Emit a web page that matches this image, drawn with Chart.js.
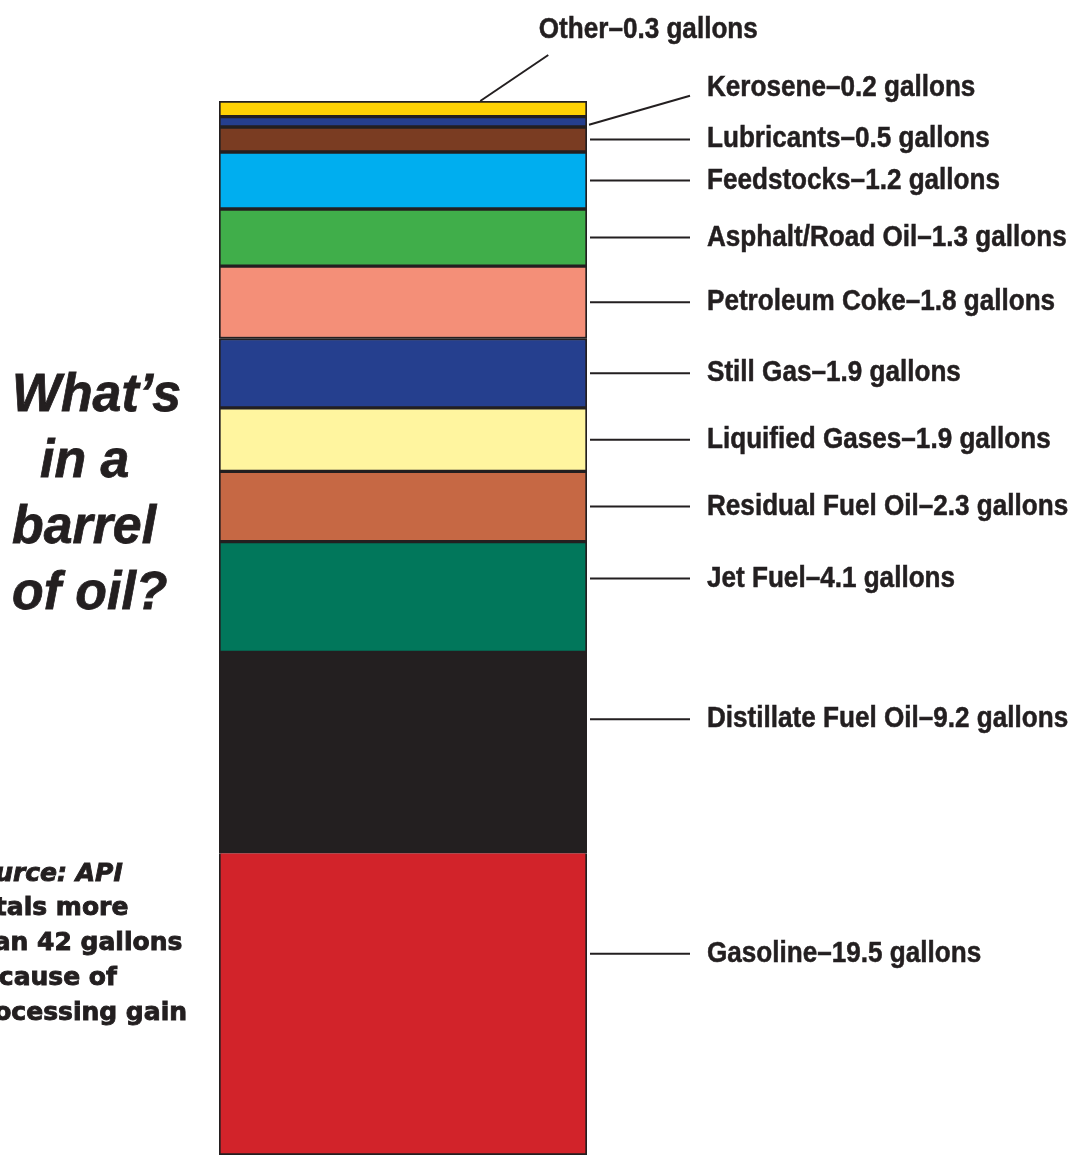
<!DOCTYPE html>
<html lang="en">
  <head>
    <meta charset="UTF-8" />
    <title>What's in a barrel of oil?</title>
    <style>
      body { margin: 0; background: #fff; }
      #wrap { width: 1071px; height: 1155px; overflow: hidden; }
    </style>
  </head>
  <body>
    <div id="wrap">
      <canvas id="barrel" width="1071" height="1155"></canvas>
    </div>

    <script src="https://cdn.jsdelivr.net/npm/chart.js@4/dist/chart.umd.min.js"></script>
    <script>
      // products, top of the barrel first
      var products = ['Other', 'Kerosene', 'Lubricants', 'Feedstocks', 'Asphalt/Road Oil', 'Petroleum Coke',
                      'Still Gas', 'Liquified Gases', 'Residual Fuel Oil', 'Jet Fuel', 'Distillate Fuel Oil', 'Gasoline'];
      var gallons = [0.3, 0.2, 0.5, 1.2, 1.3, 1.8, 1.9, 1.9, 2.3, 4.1, 9.2, 19.5];
      var colors = ['#ffd204', '#253f8e', '#7a3c22', '#00aeef', '#40ae4a', '#f48f78',
                    '#253f8e', '#fff59f', '#c66844', '#01775b', '#231f20', '#d2232a'];

      var ink = '#231f20';
      // the drawing squeezes the big layers, so the value axis is a log axis shifted by this much
      var axisOffset = 14;

      // floating [start, end] for every layer, stacked from the top of the barrel
      var total = 0;
      var datasets = products.map(function (name, i) {
        var start = axisOffset + total;
        total += gallons[i];
        return {
          label: name,
          data: [[start, axisOffset + total]],
          backgroundColor: colors[i],
          borderColor: ink,
          borderWidth: 2,
          borderSkipped: i === products.length - 1 ? 'bottom' : false
        };
      });

      function labelText(i) {
        return products[i] + '\u2013' + gallons[i].toFixed(1) + ' gallons';
      }

      // text drawn a bit narrower (condensed look), optionally thickened with a stroke
      function squeezedText(ctx, text, x, y, sx, thick) {
        ctx.save();
        ctx.translate(x, y);
        ctx.scale(sx, 1);
        ctx.fillText(text, 0, 0);
        if (thick) {
          ctx.lineWidth = thick;
          ctx.strokeText(text, 0, 0);
        }
        ctx.restore();
      }

      // leader lines, product labels and the side texts
      var annotations = {
        id: 'annotations',
        afterDraw: function (chart) {
          var ctx = chart.ctx;
          ctx.save();
          ctx.strokeStyle = ink;
          ctx.fillStyle = ink;
          ctx.lineWidth = 2;
          ctx.font = 'bold 29px "Liberation Sans", Arial, sans-serif';
          ctx.textBaseline = 'alphabetic';

          var lineEnd = 690, textX = 707, sx = 0.9, thick = 0.5;
          chart.data.datasets.forEach(function (ds, i) {
            var bar = chart.getDatasetMeta(i).data[0];
            var top = Math.min(bar.y, bar.base);
            var bottom = Math.min(Math.max(bar.y, bar.base), chart.chartArea.bottom);
            var h = bottom - top;
            var right = bar.x + bar.width / 2;
            var ly = h < 100 ? top + h / 2 : top + h / 3;

            ctx.lineWidth = 2;
            ctx.beginPath();
            if (i === 0) {
              var lx = bar.x + bar.width * 0.21;
              ctx.moveTo(lx, top);
              ctx.lineTo(lx + 68, top - 46);
              ctx.stroke();
              ctx.textAlign = 'center';
              squeezedText(ctx, labelText(i), lx + 168, top - 63, sx, thick);
              ctx.textAlign = 'left';
              return;
            }
            if (i === 1) {
              var ey = ly - 26;
              ctx.moveTo(right + 2, ly + 3);
              ctx.lineTo(lineEnd, ey);
              ctx.stroke();
              squeezedText(ctx, labelText(i), textX, ey, sx, thick);
              return;
            }
            ctx.moveTo(right + 3, ly);
            ctx.lineTo(lineEnd, ly);
            ctx.stroke();
            squeezedText(ctx, labelText(i), textX, ly + 8, sx, thick);
          });

          // title on the left
          ctx.font = 'italic bold 54px "Liberation Sans", Arial, sans-serif';
          squeezedText(ctx, 'What\u2019s', 12, 411, 0.96, 0.8);
          squeezedText(ctx, 'in a', 40, 477, 0.96, 0.8);
          squeezedText(ctx, 'barrel', 12, 543, 0.96, 0.8);
          squeezedText(ctx, 'of oil?', 12, 609, 0.96, 0.8);

          // source note, running off the left edge
          ctx.font = 'bold 25px "DejaVu Sans", sans-serif';
          var noteX = 187 - ctx.measureText('processing gain').width;
          ctx.font = 'italic bold 25px "DejaVu Sans", sans-serif';
          squeezedText(ctx, 'Source: API', noteX - 4, 881, 1, 0.9);
          ctx.font = 'bold 25px "DejaVu Sans", sans-serif';
          squeezedText(ctx, 'Totals more', noteX, 915, 1, 0.9);
          squeezedText(ctx, 'than 42 gallons', noteX, 950, 1, 0.9);
          squeezedText(ctx, 'because of', noteX, 985, 1, 0.9);
          squeezedText(ctx, 'processing gain', noteX, 1020, 1, 0.9);
          ctx.restore();
        }
      };

      new Chart(document.getElementById('barrel'), {
        type: 'bar',
        data: { labels: ['barrel'], datasets: datasets },
        options: {
          responsive: false,
          animation: false,
          layout: { padding: { left: 219, right: 484, top: 101, bottom: 0 } },
          datasets: { bar: { grouped: false, barPercentage: 1, categoryPercentage: 1 } },
          scales: {
            x: { display: false },
            y: {
              type: 'logarithmic',
              display: false,
              reverse: true,
              bounds: 'data',
              min: axisOffset,
              max: axisOffset + total
            }
          },
          plugins: { legend: { display: false }, tooltip: { enabled: false } }
        },
        plugins: [annotations]
      });
    </script>
  </body>
</html>
